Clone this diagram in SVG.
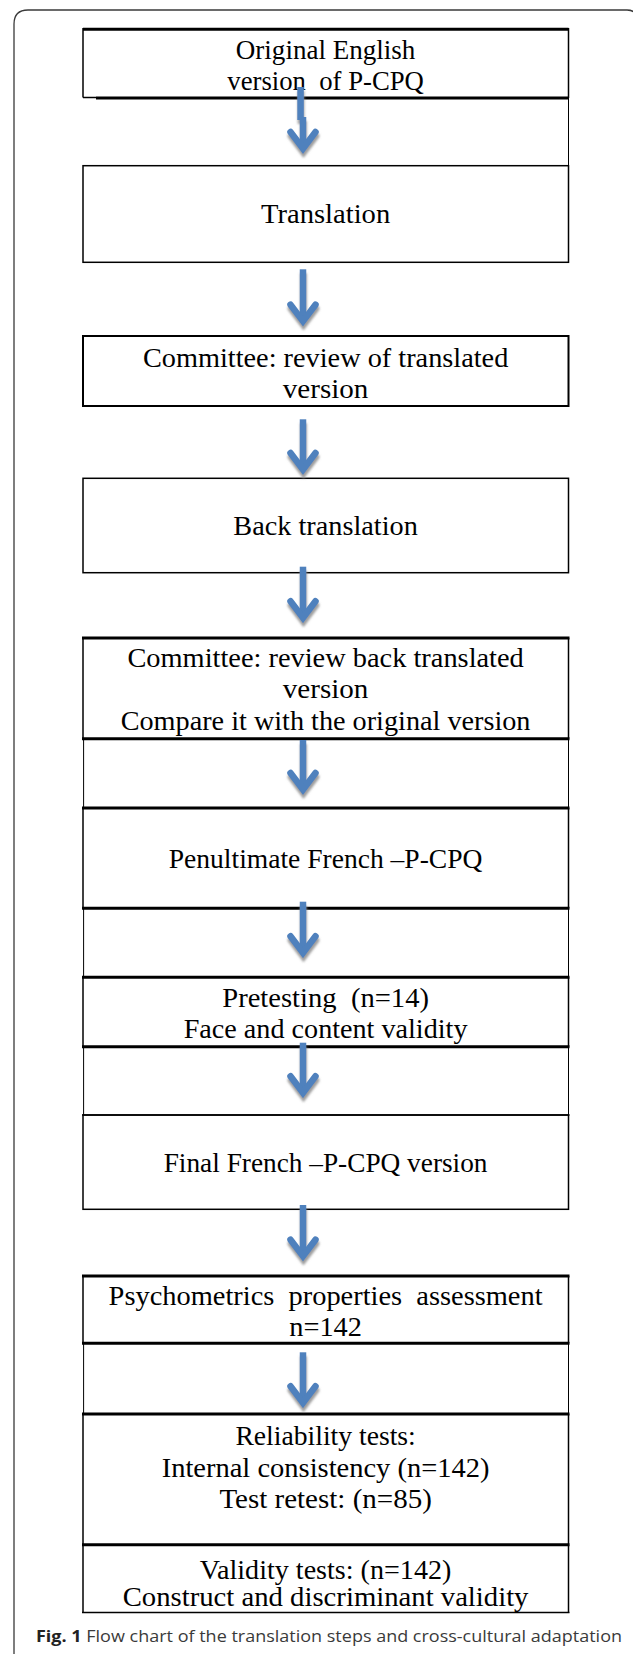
<svg xmlns="http://www.w3.org/2000/svg" width="633" height="1654" viewBox="0 0 633 1654">
  <style>
    .frame { fill: none; stroke: #3a3a3a; stroke-width: 1.3; }
    .box { fill: none; stroke: #000; stroke-width: 1.5; }
    .box3 { fill: none; stroke: #000; stroke-width: 2; }
    .thick { stroke: #000; stroke-width: 3; }
    .side { stroke: #000; stroke-width: 1; }
    .lbl { font-family: "Liberation Serif", "Times New Roman", serif; font-size: 27px; fill: #000; text-anchor: middle; }
    .cap { font-family: "Open Sans", "Liberation Sans", Arial, sans-serif; font-size: 15.5px; fill: #3a3a3a; }
    .shaft { fill: #4f81bd; }
    .head { fill: none; stroke: #4f81bd; stroke-width: 6.5; stroke-linecap: round; stroke-linejoin: miter; }
  </style>
  <defs>
    <filter id="shadow" x="-50%" y="-20%" width="200%" height="150%">
      <feDropShadow dx="0.5" dy="4" stdDeviation="1" flood-color="#8c8c8c" flood-opacity="0.85"/>
    </filter>
  </defs>

  <rect width="633" height="1654" fill="#fff"/>

  <!-- page frame -->
  <path class="frame" d="M14,1660 V24 Q14,10 28,10 H627 Q637,10 637,20"/>

  <g id="node-original">
    <line class="thick" x1="83" y1="29.3" x2="568.5" y2="29.3" stroke-width="3.4"/>
    <line class="box" x1="83" y1="28" x2="83" y2="97.5"/>
    <line class="box" x1="83" y1="97.5" x2="96" y2="97.5"/>
    <line class="thick" x1="96" y1="98" x2="568.5" y2="98" stroke-width="2.8"/>
    <line class="box" x1="568.5" y1="28" x2="568.5" y2="98"/>
    <line class="side" x1="568.5" y1="98" x2="568.5" y2="166"/>
    <text class="lbl" x="325.6" y="59.3" textLength="179.6" lengthAdjust="spacingAndGlyphs">Original English</text>
    <text class="lbl" x="325.6" y="90" textLength="196.6" lengthAdjust="spacingAndGlyphs" xml:space="preserve">version  of P-CPQ</text>
  </g>

  <g id="node-translation">
    <rect class="box" x="83" y="165.7" width="485.5" height="96.6"/>
    <text class="lbl" x="325.6" y="222.7" textLength="129.2" lengthAdjust="spacingAndGlyphs">Translation</text>
  </g>

  <g id="node-committee-1">
    <rect class="box3" x="83" y="336" width="485.5" height="70"/>
    <text class="lbl" x="325.6" y="366.7" textLength="365.4" lengthAdjust="spacingAndGlyphs">Committee: review of translated</text>
    <text class="lbl" x="325.6" y="398.3" textLength="85.6" lengthAdjust="spacingAndGlyphs">version</text>
  </g>

  <g id="node-back-translation">
    <rect class="box" x="83" y="478.3" width="485.5" height="94.4"/>
    <text class="lbl" x="325.6" y="535" textLength="184.5" lengthAdjust="spacingAndGlyphs">Back translation</text>
  </g>

  <g id="node-committee-2">
    <line class="box" x1="83" y1="638" x2="83" y2="738.7"/>
    <line class="box" x1="568.5" y1="638" x2="568.5" y2="738.7"/>
    <line class="thick" x1="82" y1="638" x2="569.5" y2="638"/>
    <line class="thick" x1="82" y1="738.7" x2="569.5" y2="738.7"/>
    <line class="side" x1="83.6" y1="738.7" x2="83.6" y2="808"/>
    <line class="side" x1="568.5" y1="738.7" x2="568.5" y2="808"/>
    <text class="lbl" x="325.6" y="667.3" textLength="396.4" lengthAdjust="spacingAndGlyphs">Committee: review back translated</text>
    <text class="lbl" x="325.6" y="698.3" textLength="85.6" lengthAdjust="spacingAndGlyphs">version</text>
    <text class="lbl" x="325.6" y="730" textLength="409.8" lengthAdjust="spacingAndGlyphs">Compare it with the original version</text>
  </g>

  <g id="node-penultimate">
    <line class="box" x1="83" y1="808" x2="83" y2="908.3"/>
    <line class="box" x1="568.5" y1="808" x2="568.5" y2="908.3"/>
    <line class="thick" x1="82" y1="808" x2="569.5" y2="808"/>
    <line class="thick" x1="82" y1="908.3" x2="569.5" y2="908.3"/>
    <line class="side" x1="83.6" y1="908.3" x2="83.6" y2="977.3"/>
    <line class="side" x1="568.5" y1="908.3" x2="568.5" y2="977.3"/>
    <text class="lbl" x="325.6" y="868.3" textLength="313.7" lengthAdjust="spacingAndGlyphs">Penultimate French –P-CPQ</text>
  </g>

  <g id="node-pretesting">
    <line class="box" x1="83" y1="977.3" x2="83" y2="1046.7"/>
    <line class="box" x1="568.5" y1="977.3" x2="568.5" y2="1046.7"/>
    <line class="thick" x1="82" y1="977.3" x2="569.5" y2="977.3"/>
    <line class="thick" x1="82" y1="1046.7" x2="569.5" y2="1046.7"/>
    <line class="side" x1="83.6" y1="1046.7" x2="83.6" y2="1115"/>
    <line class="side" x1="568.5" y1="1046.7" x2="568.5" y2="1115"/>
    <text class="lbl" x="325.6" y="1006.7" textLength="206.7" lengthAdjust="spacingAndGlyphs" xml:space="preserve">Pretesting  (n=14)</text>
    <text class="lbl" x="325.6" y="1038.3" textLength="283.8" lengthAdjust="spacingAndGlyphs">Face and content validity</text>
  </g>

  <g id="node-final">
    <rect class="box" x="83" y="1115" width="485.5" height="94.3"/>
    <line class="box" x1="82" y1="1115" x2="569.5" y2="1115" stroke-width="1.8"/>
    <text class="lbl" x="325.6" y="1171.7" textLength="323.8" lengthAdjust="spacingAndGlyphs">Final French –P-CPQ version</text>
  </g>

  <g id="node-psychometrics">
    <line class="box" x1="83" y1="1276" x2="83" y2="1343.3"/>
    <line class="box" x1="568.5" y1="1276" x2="568.5" y2="1343.3"/>
    <line class="thick" x1="82" y1="1276" x2="569.5" y2="1276"/>
    <line class="thick" x1="82" y1="1343.3" x2="569.5" y2="1343.3"/>
    <line class="side" x1="83.6" y1="1343.3" x2="83.6" y2="1414"/>
    <line class="side" x1="568.5" y1="1343.3" x2="568.5" y2="1414"/>
    <text class="lbl" x="325.6" y="1305" textLength="434" lengthAdjust="spacingAndGlyphs" xml:space="preserve">Psychometrics  properties  assessment</text>
    <text class="lbl" x="325.6" y="1336" textLength="72.7" lengthAdjust="spacingAndGlyphs">n=142</text>
  </g>

  <g id="node-reliability">
    <line class="box" x1="83" y1="1414" x2="83" y2="1544.7"/>
    <line class="box" x1="568.5" y1="1414" x2="568.5" y2="1544.7"/>
    <line class="thick" x1="82" y1="1414" x2="569.5" y2="1414"/>
    <line class="thick" x1="82" y1="1544.7" x2="569.5" y2="1544.7"/>
    <text class="lbl" x="325.6" y="1445" textLength="180.4" lengthAdjust="spacingAndGlyphs">Reliability tests:</text>
    <text class="lbl" x="325.6" y="1476.7" textLength="327.8" lengthAdjust="spacingAndGlyphs">Internal consistency (n=142)</text>
    <text class="lbl" x="325.6" y="1508.3" textLength="212.4" lengthAdjust="spacingAndGlyphs">Test retest: (n=85)</text>
  </g>

  <g id="node-validity">
    <line class="box" x1="83" y1="1544.7" x2="83" y2="1612.5"/>
    <line class="box" x1="568.5" y1="1544.7" x2="568.5" y2="1612.5"/>
    <line class="box" x1="82" y1="1612.5" x2="569.5" y2="1612.5" stroke-width="2"/>
    <text class="lbl" x="325.6" y="1579.3" textLength="251.5" lengthAdjust="spacingAndGlyphs">Validity tests: (n=142)</text>
    <text class="lbl" x="325.6" y="1606" textLength="405.8" lengthAdjust="spacingAndGlyphs">Construct and discriminant validity</text>
  </g>

  <!-- downward block arrows between the steps -->
  <g id="connectors" filter="url(#shadow)">
    <g id="arrow-1">
      <rect class="shaft" x="297.3" y="87" width="6.5" height="33"/>
      <rect class="shaft" x="299.75" y="117" width="6.5" height="28"/>
      <path class="head" d="M290.5,132 L303,148.5 L315.5,132"/>
    </g>
    <g id="arrow-2">
      <rect class="shaft" x="299.75" y="269.3" width="6.5" height="48"/>
      <path class="head" d="M290.5,304.7 L303,321.2 L315.5,304.7"/>
    </g>
    <g id="arrow-3">
      <rect class="shaft" x="299.75" y="419.3" width="6.5" height="46"/>
      <path class="head" d="M290.5,453 L303,469.5 L315.5,453"/>
    </g>
    <g id="arrow-4">
      <rect class="shaft" x="299.75" y="566.7" width="6.5" height="47"/>
      <path class="head" d="M290.5,601.3 L303,617.8 L315.5,601.3"/>
    </g>
    <g id="arrow-5">
      <rect class="shaft" x="299.75" y="740" width="6.5" height="46"/>
      <path class="head" d="M290.5,773 L303,789.5 L315.5,773"/>
    </g>
    <g id="arrow-6">
      <rect class="shaft" x="299.75" y="901.7" width="6.5" height="47"/>
      <path class="head" d="M290.5,936.3 L303,952.8 L315.5,936.3"/>
    </g>
    <g id="arrow-7">
      <rect class="shaft" x="299.75" y="1042.7" width="6.5" height="46"/>
      <path class="head" d="M290.5,1076.3 L303,1092.8 L315.5,1076.3"/>
    </g>
    <g id="arrow-8">
      <rect class="shaft" x="299.75" y="1205" width="6.5" height="47"/>
      <path class="head" d="M290.5,1239.7 L303,1256.2 L315.5,1239.7"/>
    </g>
    <g id="arrow-9">
      <rect class="shaft" x="299.75" y="1352.3" width="6.5" height="46"/>
      <path class="head" d="M290.5,1386.3 L303,1402.8 L315.5,1386.3"/>
    </g>
  </g>

  <text class="cap" x="36" y="1642" textLength="586" lengthAdjust="spacingAndGlyphs"><tspan font-weight="bold" fill="#222">Fig. 1</tspan> Flow chart of the translation steps and cross-cultural adaptation</text>
</svg>
